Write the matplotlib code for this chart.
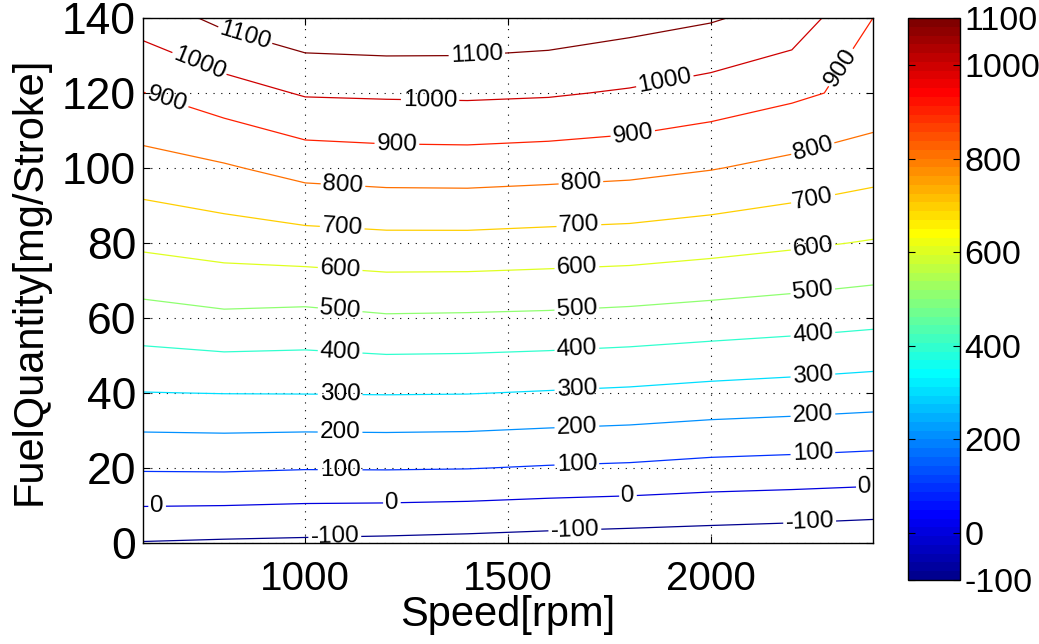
import numpy as np
import matplotlib
matplotlib.use("Agg")
import matplotlib.pyplot as plt
from matplotlib.colors import LinearSegmentedColormap, Normalize

plt.rcParams['font.family'] = ['Liberation Sans', 'DejaVu Sans']

# ---- data ----
speed = [600, 800, 1000, 1200, 1400, 1600, 1800, 2000, 2200, 2400]
fuel = [0, 20, 40, 60, 80, 100, 120, 140]
z_rows = [
    [-104, -111, -116, -121, -128, -137, -145, -152, -160, -171],
    [110, 112, 105, 106, 103, 93, 86, 72, 65, 56],
    [298, 302, 303, 305, 303, 294, 285, 271, 261, 249],
    [460, 481, 472, 490, 487, 482, 472, 458, 444, 427],
    [619, 643, 659, 670, 670, 662, 655, 637, 616, 593],
    [758, 789, 835, 846, 848, 839, 828, 805, 773, 737],
    [898, 956, 1009, 1014, 1017, 1010, 990, 959, 920, 870],
    [1044, 1126, 1179, 1188, 1183, 1168, 1139, 1110, 1059, 900],
]
levels = [-100, 0, 100, 200, 300, 400, 500, 600, 700, 800, 900, 1000, 1100]
xticks = [1000, 1500, 2000]
yticks = [0, 20, 40, 60, 80, 100, 120, 140]
cbar_ticks = [-100, 0, 200, 400, 600, 800, 1000, 1100]

# label placement (layout)
label_pos = [
    (1073, 1.6), (1665, 3.2), (2244, 5.3),
    (635, 9.1), (1214, 9.9), (1796, 12.3), (2380, 14.9),
    (1086, 19.7), (1670, 20.5), (2252, 23.5),
    (1086, 29.6), (1670, 30.7), (2252, 34),
    (1086, 39.5), (1670, 41), (2252, 44.5),
    (1086, 50.7), (1670, 51.5), (2252, 55.5),
    (1086, 61.9), (1670, 61.9), (2252, 66.7),
    (1086, 72.8), (1670, 73.3), (2252, 79),
    (1091, 83.7), (1675, 84.3), (2252, 92),
    (1093, 94.9), (1680, 95.7), (2252, 105),
    (659, 118), (1226, 105.3), (1808, 109), (2318, 127),
    (736, 127), (1308, 118), (1887, 123),
    (851, 135), (1424, 129),
]

# MATLAB-style jet colormap
matlab_jet = LinearSegmentedColormap('mjet', {
    'red':   [(0, 0, 0), (0.365, 0, 0), (0.619, 1, 1), (0.873, 1, 1), (1, 0.5, 0.5)],
    'green': [(0, 0, 0), (0.111, 0, 0), (0.365, 1, 1), (0.619, 1, 1), (0.873, 0, 0), (1, 0, 0)],
    'blue':  [(0, 0.5625, 0.5625), (0.111, 1, 1), (0.365, 1, 1), (0.619, 0, 0), (1, 0, 0)],
}, N=64)

X, Y = np.meshgrid(speed, fuel)
Z = np.array(z_rows, dtype=float)

fig = plt.figure(figsize=(10.39, 6.44), dpi=100)
ax = fig.add_axes([0.1376, 0.157, 0.7026, 0.815])
norm = Normalize(vmin=-100, vmax=1100)
cs = ax.contour(X, Y, Z, levels=levels, cmap=matlab_jet, norm=norm, linewidths=0.9)
ax.clabel(cs, fmt='%d', fontsize=17.5, inline=True, inline_spacing=2,
          manual=label_pos, colors='black')

ax.set_xlim(600, 2400)
ax.set_ylim(0, 140)
ax.set_xticks(xticks)
ax.set_yticks(yticks)
ax.tick_params(direction='in', top=True, right=True, length=5, width=0.8)
ax.tick_params(axis='x', labelsize=29, pad=12)
ax.tick_params(axis='y', labelsize=32, pad=5)
ax.grid(True, linestyle=(0, (1, 6)), color='black', linewidth=0.8)
for s in ax.spines.values():
    s.set_linewidth(1.0)
ax.set_xlabel('Speed[rpm]', fontsize=30)
ax.set_ylabel('FuelQuantity[mg/Stroke]', fontsize=30)
ax.xaxis.set_label_coords(0.5, -0.1)
ax.yaxis.set_label_coords(-0.128, 0.5)

cax = fig.add_axes([0.874, 0.0994, 0.05, 0.8726])
sm = matplotlib.cm.ScalarMappable(norm=norm, cmap=matlab_jet)
cb = fig.colorbar(sm, cax=cax, ticks=cbar_ticks)
cb.ax.tick_params(direction='in', labelsize=24.5, length=5, width=0.8, left=True, right=True, pad=3)
cb.ax.set_yticklabels([str(t) for t in cbar_ticks])
cb.outline.set_linewidth(1.0)

fig.savefig('out.png', dpi=100)
